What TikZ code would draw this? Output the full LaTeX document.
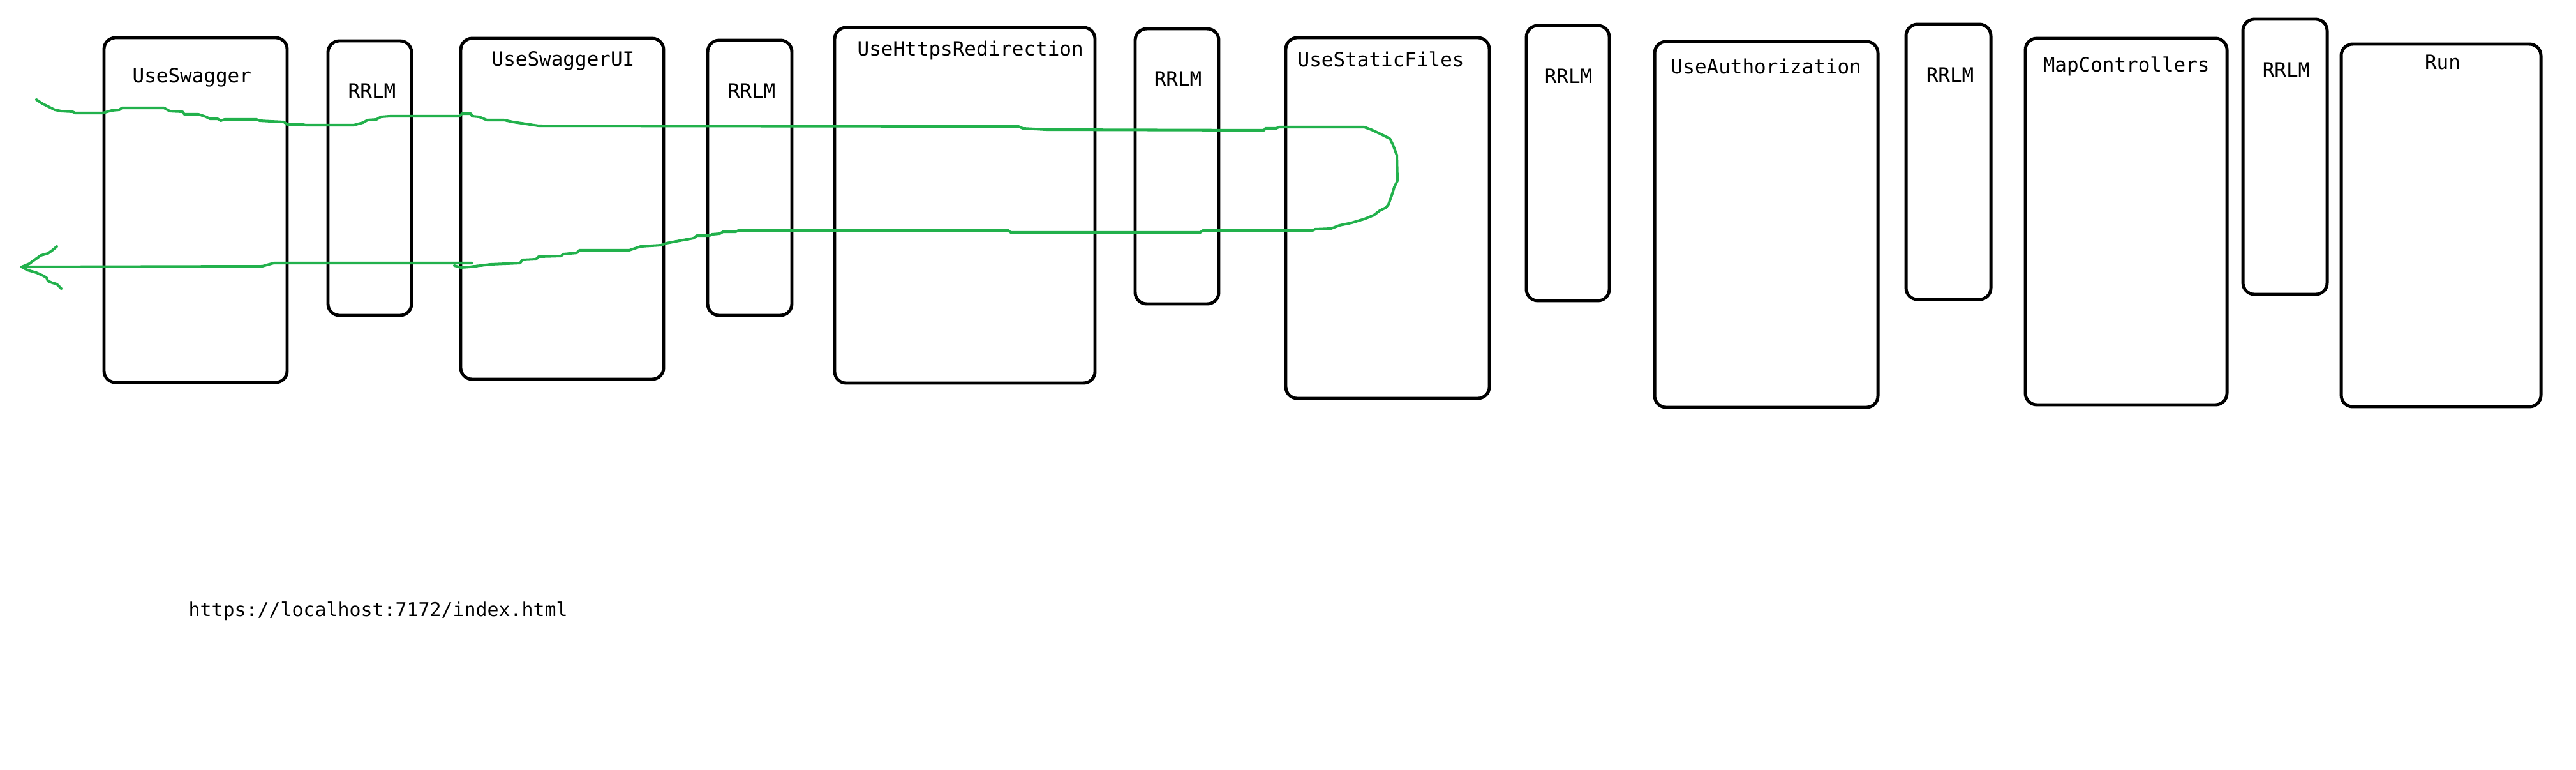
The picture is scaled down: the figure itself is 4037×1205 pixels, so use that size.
\documentclass[tikz,border=0pt]{standalone}
\usepackage{fontspec}
\newfontfamily\codefont{DejaVu Sans Mono}
\definecolor{paintgreen}{RGB}{34,177,76}
\tikzset{
  mw/.style={draw, line width=1.4pt, rounded corners=0.18cm},
  lbl/.style={font=\codefont\fontsize{8.8pt}{10pt}\selectfont, inner sep=0pt},
  flow/.style={draw=paintgreen, line width=1.15pt, line join=round, line cap=round}
}
\begin{document}
\begin{tikzpicture}[x=0.01cm, y=-0.01cm]
\useasboundingbox (0,0) rectangle (4037,1205);
%\draw[help lines] (0,0) grid[step=100] (4037,1205);
% middleware boxes
\draw[mw] (163,59) rectangle (450,599);
\draw[mw] (514,64) rectangle (645,494);
\draw[mw] (722,60) rectangle (1040,594);
\draw[mw] (1109,63) rectangle (1241,494);
\draw[mw] (1308,43) rectangle (1716,600);
\draw[mw] (1779,45) rectangle (1910,476);
\draw[mw] (2015,59) rectangle (2334,624);
\draw[mw] (2392,40) rectangle (2522,471);
\draw[mw] (2593,65) rectangle (2943,638);
\draw[mw] (2987,38) rectangle (3120,469);
\draw[mw] (3174,60) rectangle (3490,634);
\draw[mw] (3515,30) rectangle (3647,461);
\draw[mw] (3669,69) rectangle (3982,637);
% labels
\node[lbl, anchor=base west] (swg) at (207,129) {UseSwagger};
\node[lbl, anchor=base] (rr1) at (583,153) {RRLM};
\node[lbl, anchor=base west] (swgui) at (770,103) {UseSwaggerUI};
\node[lbl, anchor=base] (rr2) at (1178,153) {RRLM};
\node[lbl, anchor=base west] (https) at (1343,87) {UseHttpsRedirection};
\node[lbl, anchor=base] (rr3) at (1846,134) {RRLM};
\node[lbl, anchor=base west] (static) at (2033,104) {UseStaticFiles};
\node[lbl, anchor=base] (rr4) at (2458,130) {RRLM};
\node[lbl, anchor=base west] (auth) at (2618,115) {UseAuthorization};
\node[lbl, anchor=base] (rr5) at (3056,128) {RRLM};
\node[lbl, anchor=base west] (ctrl) at (3201,112) {MapControllers};
\node[lbl, anchor=base] (rr6) at (3583,120) {RRLM};
\node[lbl, anchor=base] (run) at (3828,108) {Run};
\node[lbl, anchor=base west, font=\codefont\fontsize{8.5pt}{10pt}\selectfont] (url) at (295,965) {https://localhost:7172/index.html};
% request goes in, response comes back
\coordinate (in) at (57,156);
\coordinate (tip) at (34,418);
\draw[flow] (in) -- (66,162) -- (86,172) -- (96,174) -- (114,175) -- (118,177) -- (161,177)
  -- (175,173) -- (187,172) -- (191,169) -- (257,169) -- (266,174) -- (286,175) -- (289,179)
  -- (311,179) -- (323,183) -- (329,186) -- (341,186) -- (346,189) -- (352,187) -- (402,187)
  -- (407,189) -- (425,190) -- (445,191) -- (450,195) -- (475,195) -- (479,196) -- (554,196)
  -- (569,192) -- (576,188) -- (590,187) -- (597,183) -- (611,182) -- (720,182) -- (724,178)
  -- (738,178) -- (740,182) -- (751,183) -- (763,188) -- (790,188) -- (804,191) -- (844,197)
  -- (1596,198) -- (1603,201) -- (1640,203) -- (1981,204) -- (1983,201) -- (2000,201)
  -- (2004,199) -- (2138,199) -- (2149,203) -- (2164,210) -- (2178,217) -- (2183,227)
  -- (2189,243) -- (2190,283) -- (2185,293) -- (2182,303) -- (2176,320) -- (2172,325)
  -- (2162,330) -- (2153,337) -- (2138,343) -- (2118,349) -- (2099,353) -- (2086,358)
  -- (2061,359) -- (2057,361) -- (1885,361) -- (1881,364) -- (1584,364) -- (1580,361)
  -- (1157,361) -- (1153,363) -- (1133,363) -- (1128,366) -- (1116,367) -- (1112,369)
  -- (1092,369) -- (1087,373) -- (1065,377) -- (1044,381) -- (1036,384) -- (1004,386)
  -- (986,392) -- (908,392) -- (904,396) -- (883,398) -- (879,401) -- (844,402) -- (840,406)
  -- (819,407) -- (815,412) -- (769,414) -- (736,418) -- (722,419) -- (712,416);
\draw[flow] (740,412) -- (429,412) -- (411,417) -- (tip);
\draw[flow] (tip) -- (46,413) -- (57,405) -- (64,400) -- (75,397) -- (82,392) -- (89,386);
\draw[flow] (tip) -- (43,423) -- (57,427) -- (68,432) -- (73,435) -- (75,440) -- (82,443)
  -- (89,445) -- (96,452);
\end{tikzpicture}
\end{document}
